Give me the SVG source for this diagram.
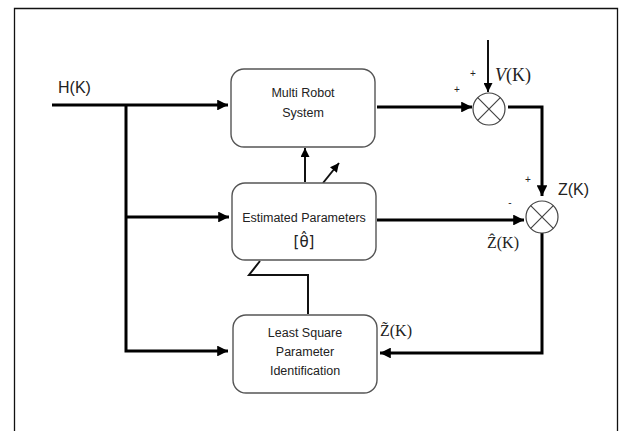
<svg xmlns="http://www.w3.org/2000/svg" width="620" height="431" viewBox="0 0 620 431">
<style>
.box{fill:#fff;stroke:#555;stroke-width:1.4}
.sum{fill:#fff;stroke:#444;stroke-width:1.2}
.bt{font-family:"Liberation Sans",Arial,sans-serif;font-size:12.5px;fill:#222;text-anchor:middle}
.lbl{font-family:"Liberation Sans",Arial,sans-serif;font-size:16px;fill:#222}
.ser{font-family:"Liberation Serif","DejaVu Serif",serif;font-size:16px;fill:#222}
.pm{font-family:"Liberation Sans",Arial,sans-serif;font-size:10px;fill:#222;text-anchor:middle}
.thick{fill:none;stroke:#000;stroke-width:3}
.thin{fill:none;stroke:#111;stroke-width:2}
</style>
<defs>
<marker id="ah" viewBox="0 0 10 10" refX="10" refY="5" markerWidth="3.6" markerHeight="3.6" orient="auto" markerUnits="strokeWidth">
<path d="M0,0 L10,5 L0,10 Z" fill="#000"/>
</marker>
<marker id="ahs" viewBox="0 0 10 10" refX="10" refY="5" markerWidth="4.5" markerHeight="4.5" orient="auto" markerUnits="strokeWidth">
<path d="M0,0 L10,5 L0,10 Z" fill="#000"/>
</marker>
</defs>
<rect x="0" y="0" width="620" height="431" fill="#fff"/>
<path d="M14.5,431 V8.5 H617.5 V431" fill="none" stroke="#111" stroke-width="1.3"/>

<g id="connectors">
<path class="thick" d="M52,105 H228" marker-end="url(#ah)"/>
<path class="thick" d="M126,105 V351 H228" marker-end="url(#ah)"/>
<path class="thick" d="M126,217 H229" marker-end="url(#ah)"/>
<path class="thin" d="M305,182 V148" marker-end="url(#ahs)"/>
<path class="thin" d="M323,183 L339,163" marker-end="url(#ahs)"/>
<path class="thin" d="M260,261 L249,275 H308 V314"/>
<path class="thick" d="M377,107 H472" marker-end="url(#ah)"/>
<path class="thin" d="M488,40 V92" marker-end="url(#ahs)"/>
<path class="thick" d="M508,107 H542 V196" marker-end="url(#ah)"/>
<path class="thick" d="M377,220 H524" marker-end="url(#ah)"/>
<path class="thick" d="M542,233 V353 H380" marker-end="url(#ah)"/>
</g>

<g id="n-input"><text class="lbl" x="58" y="93">H(K)</text></g>

<g id="n-mrs">
<rect class="box" x="231" y="69" width="144" height="78" rx="13"/>
<text class="bt" x="303" y="97">Multi Robot</text>
<text class="bt" x="303" y="117">System</text>
</g>

<g id="n-est">
<rect class="box" x="232" y="183" width="144" height="77" rx="13"/>
<text class="bt" x="304" y="222">Estimated Parameters</text>
<text class="bt" x="304" y="247" style="font-family:'DejaVu Sans',sans-serif;font-size:15px">[θ̂]</text>
</g>

<g id="n-ls">
<rect class="box" x="233" y="315" width="144" height="78" rx="13"/>
<text class="bt" x="305" y="337">Least Square</text>
<text class="bt" x="305" y="356">Parameter</text>
<text class="bt" x="305" y="375">Identification</text>
</g>

<g id="n-sum1">
<circle class="sum" cx="489" cy="109" r="16"/>
<path d="M477.7,97.7 L500.3,120.3 M500.3,97.7 L477.7,120.3" stroke="#444" stroke-width="1.2"/>
<text class="pm" x="473" y="77">+</text>
<text class="pm" x="457" y="93">+</text>
<text class="ser" x="495" y="81" style="font-size:18px"><tspan font-style="italic">V</tspan>(K)</text>
</g>

<g id="n-sum2">
<circle class="sum" cx="542" cy="217" r="16"/>
<path d="M530.7,205.7 L553.3,228.3 M553.3,205.7 L530.7,228.3" stroke="#444" stroke-width="1.2"/>
<text class="pm" x="528" y="183">+</text>
<text class="pm" x="510" y="206">-</text>
<text class="lbl" x="558" y="195">Z(K)</text>
<text class="ser" x="487" y="248">Ẑ(K)</text>
</g>

<g id="n-ztilde"><text class="ser" x="380" y="336">Z̃(K)</text></g>
</svg>
